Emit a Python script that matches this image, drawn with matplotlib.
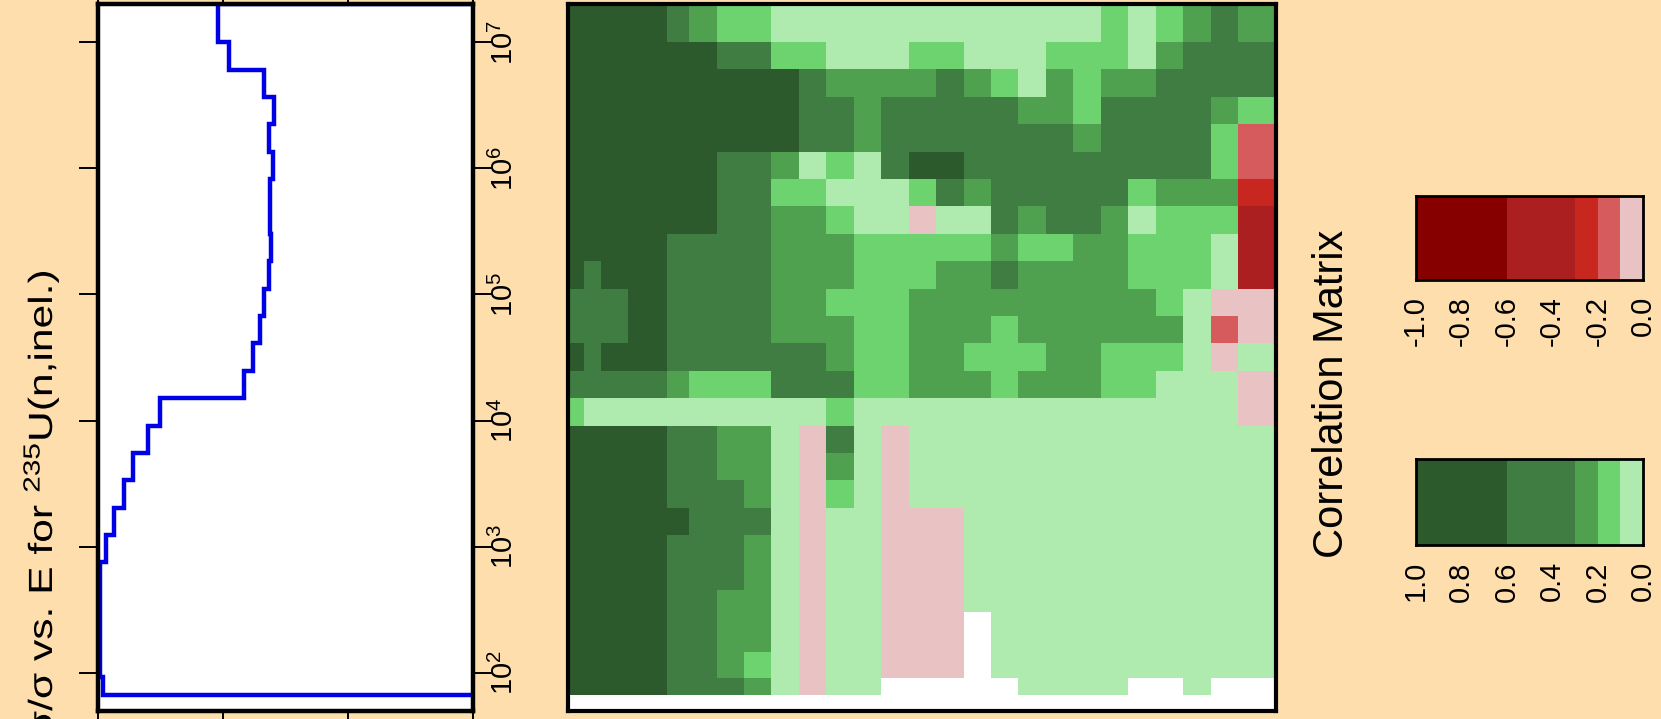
import numpy as np
import matplotlib
matplotlib.use('Agg')
import matplotlib.pyplot as plt
from matplotlib.colors import ListedColormap, BoundaryNorm
from matplotlib.ticker import NullLocator
from matplotlib.textpath import TextPath
from matplotlib.patches import PathPatch
from matplotlib.font_manager import FontProperties
from matplotlib.transforms import Affine2D, IdentityTransform

plt.rcParams['font.family'] = ['Liberation Sans', 'DejaVu Sans']
plt.rcParams['mathtext.fontset'] = 'custom'
plt.rcParams['mathtext.rm'] = 'Liberation Sans'
plt.rcParams['mathtext.it'] = 'Liberation Sans:italic'
plt.rcParams['mathtext.bf'] = 'Liberation Sans:bold'

nan = np.nan

# energy group boundaries (eV), low -> high
e_bounds = [67, 92, 148, 302, 454, 748.5, 1234, 2035, 3355, 5531, 9119,
            1.503e4, 2.479e4, 4.087e4, 6.738e4, 1.111e5, 1.832e5, 3.020e5,
            4.979e5, 8.209e5, 1.353e6, 2.231e6, 3.679e6, 6.065e6, 1e7, 2e7]
e_min = 50  # lower end of the energy axis (first column starts here)

# relative uncertainty per group, from highest group down
rel_unc = [0.096, 0.105, 0.133, 0.141, 0.137, 0.140, 0.138, 0.138, 0.139,
           0.137, 0.133, 0.130, 0.1245, 0.117, 0.050, 0.040, 0.0285, 0.0215,
           0.013, 0.0065, 0.0016, 0.0016, 0.0016, 0.0016, 0.004]

# correlation matrix, rows from highest energy down, columns from lowest energy up
corr_rows = [
    [.8, .8, .8, .8, .45, .25, .15, .15, .05, .05, .05, .05, .05, .05, .05, .05, .05, .05, .05, .05, .15, .05, .15, .25, .45, .25],
    [.8, .8, .8, .8, .8, .8, .45, .45, .15, .15, .05, .05, .05, .15, .15, .05, .05, .05, .15, .15, .15, .05, .25, .45, .45, .45],
    [.8, .8, .8, .8, .8, .8, .8, .8, .8, .45, .25, .25, .25, .25, .45, .25, .15, .05, .25, .15, .25, .25, .45, .45, .45, .45],
    [.8, .8, .8, .8, .8, .8, .8, .8, .8, .45, .45, .25, .45, .45, .45, .45, .45, .25, .25, .15, .45, .45, .45, .45, .25, .15],
    [.8, .8, .8, .8, .8, .8, .8, .8, .8, .45, .45, .25, .45, .45, .45, .45, .45, .45, .45, .25, .45, .45, .45, .45, .15, -.15],
    [.8, .8, .8, .8, .8, .8, .45, .45, .25, .05, .15, .05, .45, .8, .8, .45, .45, .45, .45, .45, .45, .45, .45, .45, .15, -.15],
    [.8, .8, .8, .8, .8, .8, .45, .45, .15, .15, .05, .05, .05, .15, .45, .25, .45, .45, .45, .45, .45, .15, .25, .25, .25, -.25],
    [.8, .8, .8, .8, .8, .8, .45, .45, .25, .25, .15, .05, .05, -.05, .05, .05, .45, .25, .45, .45, .25, .05, .15, .15, .15, -.45],
    [.8, .8, .8, .8, .45, .45, .45, .45, .25, .25, .25, .15, .15, .15, .15, .15, .25, .15, .15, .25, .25, .15, .15, .15, .05, -.45],
    [.8, .45, .8, .8, .45, .45, .45, .45, .25, .25, .25, .15, .15, .15, .25, .25, .45, .25, .25, .25, .25, .15, .15, .15, .05, -.45],
    [.45, .45, .45, .8, .45, .45, .45, .45, .25, .25, .15, .15, .15, .25, .25, .25, .25, .25, .25, .25, .25, .25, .15, .05, -.05, -.05],
    [.45, .45, .45, .8, .45, .45, .45, .45, .25, .25, .25, .15, .15, .25, .25, .25, .15, .25, .25, .25, .25, .25, .25, .05, -.15, -.05],
    [.8, .45, .8, .8, .45, .45, .45, .45, .45, .45, .25, .15, .15, .25, .25, .15, .15, .15, .25, .25, .15, .15, .15, .05, -.05, .05],
    [.45, .45, .45, .45, .25, .15, .15, .15, .45, .45, .45, .15, .15, .25, .25, .25, .15, .25, .25, .25, .15, .15, .05, .05, .05, -.05],
    [.15, .05, .05, .05, .05, .05, .05, .05, .05, .05, .15, .05, .05, .05, .05, .05, .05, .05, .05, .05, .05, .05, .05, .05, .05, -.05],
    [.8, .8, .8, .8, .45, .45, .25, .25, .05, -.05, .45, .05, -.05, .05, .05, .05, .05, .05, .05, .05, .05, .05, .05, .05, .05, .05],
    [.8, .8, .8, .8, .45, .45, .25, .25, .05, -.05, .25, .05, -.05, .05, .05, .05, .05, .05, .05, .05, .05, .05, .05, .05, .05, .05],
    [.8, .8, .8, .8, .45, .45, .45, .25, .05, -.05, .15, .05, -.05, .05, .05, .05, .05, .05, .05, .05, .05, .05, .05, .05, .05, .05],
    [.8, .8, .8, .8, .8, .45, .45, .45, .05, -.05, .05, .05, -.05, -.05, -.05, .05, .05, .05, .05, .05, .05, .05, .05, .05, .05, .05],
    [.8, .8, .8, .8, .45, .45, .45, .25, .05, -.05, .05, .05, -.05, -.05, -.05, .05, .05, .05, .05, .05, .05, .05, .05, .05, .05, .05],
    [.8, .8, .8, .8, .45, .45, .45, .25, .05, -.05, .05, .05, -.05, -.05, -.05, .05, .05, .05, .05, .05, .05, .05, .05, .05, .05, .05],
    [.8, .8, .8, .8, .45, .45, .25, .25, .05, -.05, .05, .05, -.05, -.05, -.05, .05, .05, .05, .05, .05, .05, .05, .05, .05, .05, .05],
    [.8, .8, .8, .8, .45, .45, .25, .25, .05, -.05, .05, .05, -.05, -.05, -.05, nan, .05, .05, .05, .05, .05, .05, .05, .05, .05, .05],
    [.8, .8, .8, .8, .45, .45, .25, .15, .05, -.05, .05, .05, -.05, -.05, -.05, nan, .05, .05, .05, .05, .05, .05, .05, .05, .05, .05],
    [.8, .8, .8, .8, .45, .45, .45, .25, .05, -.05, .05, .05, nan, nan, nan, nan, nan, .05, .05, .05, .05, nan, nan, .05, nan, nan],
]

levels = [-1.0, -0.6, -0.3, -0.2, -0.1, 0.0, 0.1, 0.2, 0.3, 0.6, 1.0]
level_colors = ['#870000', '#AB1F20', '#C8271F', '#D65B5C', '#E9C3C3',
                '#AFEBAF', '#6DD36F', '#50A14F', '#3F7D42', '#2C5A2D']
neg_ticks = [-1.0, -0.8, -0.6, -0.4, -0.2, 0.0]
pos_ticks = [1.0, 0.8, 0.6, 0.4, 0.2, 0.0]

bg = '#FFDEAD'
W, H = 1661, 719
fig = plt.figure(figsize=(W / 100, H / 100), dpi=100, facecolor=bg)


def box(x0, y0, x1, y1):
    # pixel box (from top-left) -> figure fraction
    return [x0 / W, 1 - y1 / H, (x1 - x0) / W, (y1 - y0) / H]


cmap = ListedColormap(level_colors)
norm = BoundaryNorm(levels, cmap.N)

# ---- left panel: uncertainty vs energy
ax1 = fig.add_axes(box(97.5, 4.4, 472.5, 710.6))
ax1.set_facecolor('white')
x_max = 0.3
hi = e_bounds[::-1]
xs, ys = [x_max], [hi[0]]
for i, v in enumerate(rel_unc):
    xs += [v, v]
    ys += [hi[i], hi[i + 1]]
xs.append(x_max)
ys.append(hi[-1])
ax1.plot(xs, ys, color='#0000E6', lw=3.2, solid_joinstyle='miter')
ax1.set_yscale('log')
ax1.set_ylim(e_min, 2e7)
ax1.set_xlim(0, x_max)
ax1.set_xticks([0, 0.1, 0.2, 0.3])
ax1.set_yticks([1e2, 1e3, 1e4, 1e5, 1e6, 1e7])
ax1.yaxis.set_minor_locator(NullLocator())
ax1.set_yticklabels([r'$\mathregular{10^{%d}}$' % k for k in range(2, 8)],
                    rotation=90, va='center', fontsize=21)
ax1.tick_params(axis='y', left=True, right=True, labelleft=False, labelright=True,
                direction='out', length=13.5, width=1.4, pad=-1)
ax1.tick_params(axis='x', bottom=True, top=True, labelbottom=False,
                direction='out', length=14, width=1.4)
for s in ax1.spines.values():
    s.set_linewidth(3.2)

# axis title: glyphs in the original are drawn wider along the text direction
ylab = TextPath((0, 0), r'Δσ/σ vs. E for $^{235}$U(n,inel.)', size=33.5,
                prop=FontProperties(family='Liberation Sans'))
ext = ylab.get_extents()
place = (Affine2D().translate(-ext.x1, 0).scale(1.27, 1.0)
         .rotate_deg(90).translate(52, H - 272))
fig.add_artist(PathPatch(place.transform_path(ylab), facecolor='black',
                         edgecolor='none', transform=IdentityTransform()))

# ---- correlation matrix
ax2 = fig.add_axes(box(568, 4, 1276, 711))
ax2.set_facecolor('white')
Z = np.ma.masked_invalid(np.array(corr_rows)[::-1])
ax2.pcolormesh([e_min] + e_bounds, e_bounds, Z, cmap=cmap, norm=norm)
ax2.set_xscale('log')
ax2.set_yscale('log')
ax2.set_xlim(e_min, 2e7)
ax2.set_ylim(e_min, 2e7)
ax2.set_xticks([])
ax2.set_yticks([])
ax2.xaxis.set_minor_locator(NullLocator())
ax2.yaxis.set_minor_locator(NullLocator())
for s in ax2.spines.values():
    s.set_linewidth(3)

# ---- legend bars
fig.text(1332 / W, 1 - 394 / H, 'Correlation Matrix', rotation=90,
         ha='center', va='center', fontsize=30)

for (y0, y1), ticks in [((195.5, 279.5), neg_ticks), ((459, 544.5), pos_ticks)]:
    axc = fig.add_axes(box(1415.5, y0, 1643, y1))
    sign = 1 if ticks[0] > 0 else -1
    edges = [b for b in levels if b * sign >= 0]
    mids = [(a + b) / 2 for a, b in zip(edges[:-1], edges[1:])]
    axc.pcolormesh(edges, [0, 1], [mids], cmap=cmap, norm=norm)
    axc.set_xlim(ticks[0], ticks[-1])
    axc.set_ylim(0, 1)
    axc.set_yticks([])
    axc.set_xticks(ticks)
    axc.set_xticklabels(['%.1f' % t for t in ticks], rotation=90, va='top', fontsize=21)
    axc.tick_params(axis='x', length=0, pad=12)
    for s in axc.spines.values():
        s.set_linewidth(2)

fig.savefig('out.png', dpi=100, facecolor=bg)
